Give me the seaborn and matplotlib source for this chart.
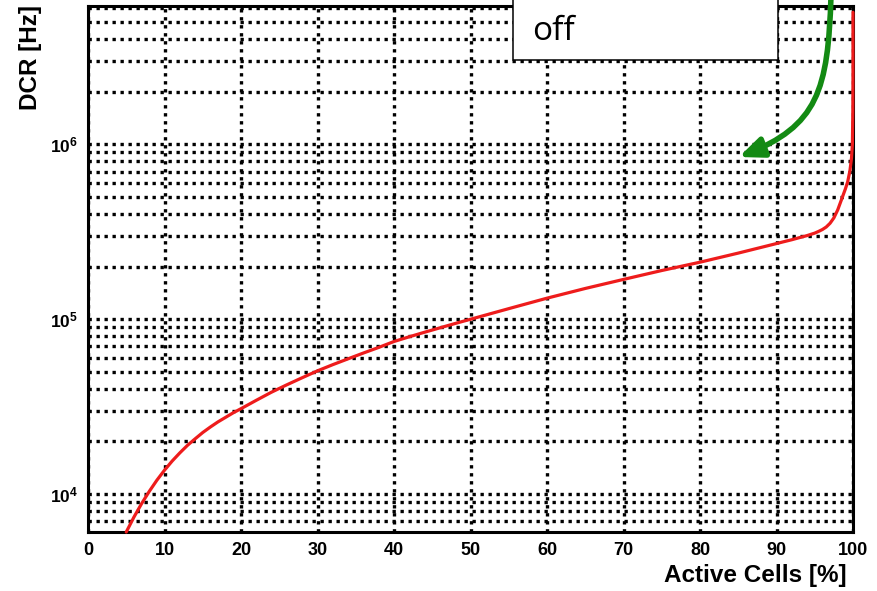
import numpy as np
import pandas as pd
import matplotlib
matplotlib.use("Agg")
import matplotlib.pyplot as plt
import seaborn as sns
from matplotlib.ticker import LogLocator, NullFormatter, FixedLocator
from matplotlib.patches import Rectangle, FancyArrowPatch
from matplotlib.path import Path

# Dark count rate as a function of the fraction of cells left active
active_cells = [5, 6, 7, 8, 9, 10, 11, 12, 13, 14, 15, 16, 17, 18, 19, 20,
                22, 24, 26, 28, 30, 32, 34, 36, 38, 40, 42, 44, 46, 48, 50,
                55, 60, 65, 70, 75, 80, 85, 90, 91, 92, 93, 94, 95, 95.5, 96,
                96.5, 97, 97.5, 98, 98.5, 99, 99.3, 99.6, 99.8, 99.92, 99.98,
                100, 100]
dcr_hz = [6.07e3, 7.38e3, 8.81e3, 1.035e4, 1.20e4, 1.37e4, 1.545e4, 1.72e4,
          1.90e4, 2.07e4, 2.25e4, 2.42e4, 2.59e4, 2.75e4, 2.92e4, 3.08e4,
          3.44e4, 3.83e4, 4.22e4, 4.63e4, 5.07e4, 5.50e4, 5.94e4, 6.41e4,
          6.90e4, 7.46e4, 7.94e4, 8.43e4, 8.93e4, 9.46e4, 1.0e5,
          1.15e5, 1.32e5, 1.50e5, 1.69e5, 1.90e5, 2.12e5, 2.39e5, 2.71e5,
          2.78e5, 2.85e5, 2.93e5, 3.01e5, 3.11e5, 3.18e5, 3.26e5, 3.37e5,
          3.54e5, 3.80e5, 4.22e5, 4.84e5, 5.56e5, 6.10e5, 7.08e5, 8.32e5,
          1.0e6, 1.58e6, 2.51e6, 5.70e6]

x_ticks = [0, 10, 20, 30, 40, 50, 60, 70, 80, 90, 100]
y_decades = [1e4, 1e5, 1e6]
y_decade_labels = [r"$10^{4}$", r"$10^{5}$", r"$10^{6}$"]
x_label = "Active Cells [%]"
y_label = "DCR [Hz]"
note_text = "off"

sns.set_style("white")
plt.rcParams["font.family"] = ["Liberation Sans", "DejaVu Sans"]
plt.rcParams["text.color"] = "black"
plt.rcParams["axes.labelcolor"] = "black"
plt.rcParams["mathtext.fontset"] = "custom"
plt.rcParams["mathtext.rm"] = "Liberation Sans:bold"
plt.rcParams["mathtext.bf"] = "Liberation Sans:bold"
plt.rcParams["mathtext.it"] = "Liberation Sans:bold"

W, H = 877, 591
fig = plt.figure(figsize=(W / 100, H / 100), dpi=100)
ax = fig.add_axes([88 / W, 1 - 532 / H, 765 / W, 526 / H])

df = pd.DataFrame({"active": active_cells, "dcr": dcr_hz})
sns.lineplot(data=df, x="active", y="dcr", ax=ax, color="#ee1c1c", lw=2.3,
             sort=False, estimator=None, zorder=6, clip_on=False)

ax.set_yscale("log")
ax.set_xlim(0, 100)
ax.set_ylim(6.07e3, 6.19e6)

# ticks
ax.xaxis.set_major_locator(FixedLocator(x_ticks))
ax.set_xticklabels([str(t) for t in x_ticks])
ax.yaxis.set_major_locator(FixedLocator(y_decades))
ax.set_yticklabels(y_decade_labels)
ax.yaxis.set_minor_locator(LogLocator(base=10, subs=np.arange(2, 10), numticks=20))
ax.yaxis.set_minor_formatter(NullFormatter())

ax.tick_params(axis="x", which="major", direction="in", length=8.6, width=2.2,
               pad=7, labelsize=13, colors="black")
ax.tick_params(axis="y", which="major", direction="in", length=16, width=2.4,
               pad=7, labelsize=12.5, colors="black")
ax.tick_params(axis="y", which="minor", direction="in", length=11, width=2.4,
               colors="black")
ax.tick_params(axis="x", which="minor", bottom=False)
for lab in ax.get_xticklabels():
    lab.set_fontweight("bold")

# dotted grid on major x and on all y ticks
grid_kw = dict(color="black", linewidth=2.4, linestyle=(0, (1.0, 1.4)))
ax.grid(True, axis="x", which="major", **grid_kw)
ax.grid(True, axis="y", which="both", **grid_kw)
ax.set_axisbelow(True)

for sp in ax.spines.values():
    sp.set_linewidth(2.2)
    sp.set_color("black")
    sp.set_zorder(5)

ax.set_xlabel(x_label, fontsize=17.5, fontweight="bold", loc="right",
              color="black")
ax.xaxis.set_label_coords((847 - 88) / 765, -0.060)
ax.set_ylabel(y_label, fontsize=17.5, fontweight="bold", loc="top",
              color="black")
ax.yaxis.set_label_coords((42 - 88) / 765, 1.002)

# annotation box and curved arrow in figure pixel space
def fx(px):
    return px / W

def fy(py):
    return 1 - py / H

box = Rectangle((fx(513), fy(60)), fx(778) - fx(513), 0.2,
                transform=fig.transFigure, facecolor="white", edgecolor="black",
                linewidth=1.1, zorder=10)
fig.add_artist(box)
fig.text(fx(532), fy(40), note_text, fontsize=24, family="Open Sans",
         va="baseline", ha="left", color="black", zorder=11)

arrow_path = Path([(fx(831), fy(-4)), (fx(828), fy(90)), (fx(818), fy(126)),
                   (fx(739), fy(157))],
                  [Path.MOVETO, Path.CURVE4, Path.CURVE4, Path.CURVE4])
arrow = FancyArrowPatch(path=arrow_path, transform=fig.transFigure,
                        arrowstyle="-|>,head_length=0.8,head_width=0.34",
                        mutation_scale=18, color="#138a13", linewidth=4.0,
                        zorder=12)
fig.add_artist(arrow)

fig.savefig("out.png", dpi=100)
